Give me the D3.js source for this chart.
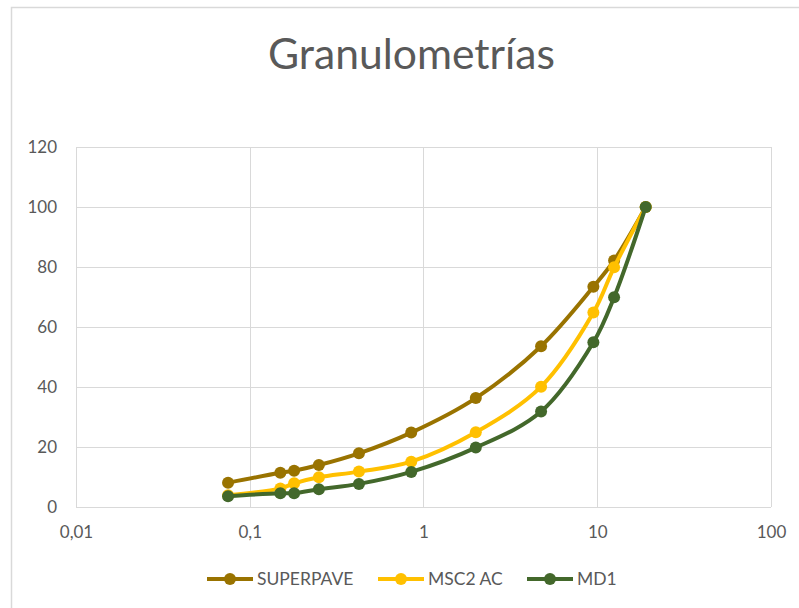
<!DOCTYPE html>
<html><head><meta charset="utf-8">
<script src="https://cdn.jsdelivr.net/npm/d3@7"></script>
<style>html,body{margin:0;padding:0;background:#fff;}svg{display:block;}</style>
</head><body><svg id="c" width="799" height="608"></svg>
<script>
const title = "Granulometrías";
const sieves = [0.075, 0.15, 0.18, 0.25, 0.425, 0.85, 2, 4.75, 9.5, 12.5, 19];
const superpave = [8.1, 11.4, 12.1, 14, 17.9, 24.8, 36.3, 53.6, 73.4, 82.2, 100];
const msc2ac = [3.9, 6.2, 7.9, 9.9, 11.8, 15.1, 24.9, 40.1, 64.8, 79.9, 100];
const md1 = [3.6, 4.6, 4.6, 5.9, 7.7, 11.7, 19.8, 31.8, 54.9, 69.9, 100];
const seriesNames = ["SUPERPAVE", "MSC2 AC", "MD1"];
const seriesColors = ["#997300", "#FFC000", "#43682B"];
const xTicks = [0.01, 0.1, 1, 10, 100];
const xTickLabels = ["0,01", "0,1", "1", "10", "100"];
const yTicks = [0, 20, 40, 60, 80, 100, 120];

const seriesValues = [superpave, msc2ac, md1];
const svg = d3.select("#c");
const font = "Lato, 'Open Sans', sans-serif";
const textColor = "#595959";
const gridColor = "#d9d9d9";

// outer chart border (cropped at right/bottom)
svg.append("path").attr("d", "M11.5,620 L11.5,7.5 L820,7.5")
  .attr("fill", "none").attr("stroke", gridColor).attr("stroke-width", 1.5);

const L = 76, R = 771, T = 147, B = 507;
const x = d3.scaleLog().domain([0.01, 100]).range([L, R]);
const y = d3.scaleLinear().domain([0, 120]).range([B, T]);

// title
const t = svg.append("text").attr("x", (268 + 555) / 2).attr("y", 68.5)
  .attr("text-anchor", "middle").attr("font-family", font).attr("font-size", 40)
  .attr("fill", textColor).text(title);
const tw = t.node().getComputedTextLength();
t.attr("font-size", 40 * 287 / tw);

// gridlines
const g = svg.append("g");
g.selectAll(".hy").data(yTicks).join("line")
  .attr("x1", L).attr("x2", R).attr("y1", d => Math.round(y(d)) + 0.5).attr("y2", d => Math.round(y(d)) + 0.5)
  .attr("stroke", gridColor).attr("stroke-width", 1);
g.selectAll(".vx").data(xTicks).join("line")
  .attr("y1", T).attr("y2", B).attr("x1", d => Math.round(x(d)) + 0.5).attr("x2", d => Math.round(x(d)) + 0.5)
  .attr("stroke", gridColor).attr("stroke-width", 1);

// axes labels via d3 axes
const yAxis = svg.append("g").attr("transform", `translate(${L},0)`)
  .call(d3.axisLeft(y).tickValues(yTicks).tickSize(0).tickPadding(19).tickFormat(d3.format("d")));
yAxis.select(".domain").remove();
yAxis.selectAll("text").attr("font-family", font).attr("font-size", 17).attr("fill", textColor);

const xAxis = svg.append("g").attr("transform", `translate(0,${B})`)
  .call(d3.axisBottom(x).tickValues(xTicks).tickSize(0).tickPadding(19).tickFormat((d, i) => xTickLabels[i]));
xAxis.select(".domain").remove();
xAxis.selectAll("text").attr("font-family", font).attr("font-size", 17).attr("fill", textColor);

// series
const line = d3.line().x(d => x(d[0])).y(d => y(d[1])).curve(d3.curveCatmullRom.alpha(0.5));
seriesValues.forEach((vals, si) => {
  const pts = sieves.map((s, i) => [s, vals[i]]);
  const sg = svg.append("g");
  sg.append("path").datum(pts).attr("d", line).attr("fill", "none")
    .attr("stroke", seriesColors[si]).attr("stroke-width", 4).attr("stroke-linejoin", "round");
  sg.selectAll("circle").data(pts).join("circle")
    .attr("cx", d => x(d[0])).attr("cy", d => y(d[1])).attr("r", 6)
    .attr("fill", seriesColors[si]);
});

// legend
const legX = [207, 378, 527];
const legY = 579;
seriesNames.forEach((n, i) => {
  const lg = svg.append("g");
  lg.append("line").attr("x1", legX[i]).attr("x2", legX[i] + 46).attr("y1", legY).attr("y2", legY)
    .attr("stroke", seriesColors[i]).attr("stroke-width", 4);
  lg.append("circle").attr("cx", legX[i] + 23).attr("cy", legY).attr("r", 6).attr("fill", seriesColors[i]);
  lg.append("text").attr("x", legX[i] + 50).attr("y", legY).attr("dy", "0.35em")
    .attr("font-family", font).attr("font-size", 17.5).attr("fill", textColor).text(n);
});
</script></body></html>
